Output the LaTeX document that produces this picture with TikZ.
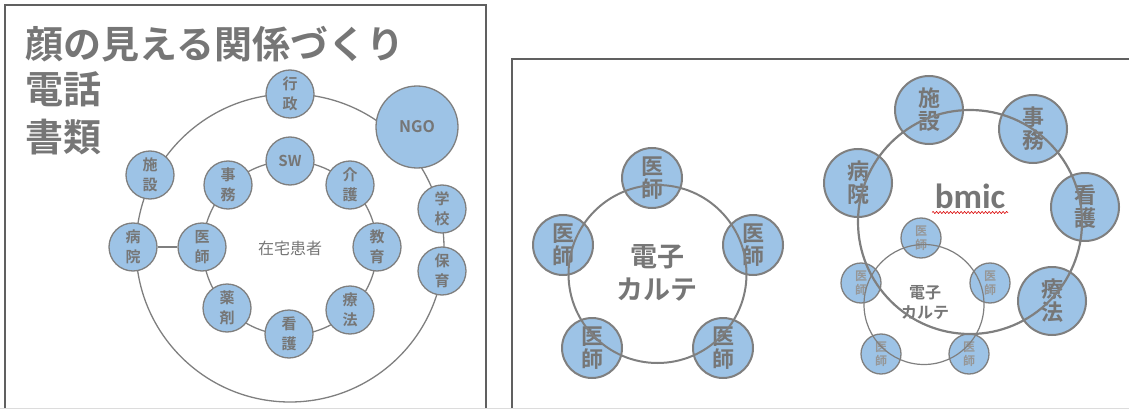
\documentclass[tikz,border=0pt]{standalone}
\usepackage{fontspec}
\newfontfamily\jp{Noto Sans CJK JP}[BoldFont={Noto Sans CJK JP Bold}]
\newfontfamily\carl{Carlito}
\usetikzlibrary{decorations.pathmorphing}
\definecolor{nodefill}{RGB}{157,195,230}
\definecolor{ln}{RGB}{127,127,127}
\definecolor{txt}{RGB}{118,118,118}
\definecolor{frm}{RGB}{96,96,96}
\definecolor{lighttxt}{RGB}{150,150,150}
\definecolor{edgeline}{RGB}{220,220,220}
\tikzset{
  lnode/.style={circle, draw=ln, fill=nodefill, line width=1.3pt, minimum size=48pt, inner sep=0pt,
    font={\jp\bfseries\fontsize{15}{20}\selectfont}, text=txt, align=center},
  pnode/.style={circle, draw=ln, fill=nodefill, line width=2pt, minimum size=60pt, inner sep=0pt,
    font={\jp\bfseries\fontsize{22}{23}\selectfont}, text=txt, align=center},
  bnode/.style={circle, draw=ln, fill=nodefill, line width=2pt, minimum size=68pt, inner sep=0pt,
    font={\jp\bfseries\fontsize{22}{23}\selectfont}, text=txt, align=center},
  snode/.style={circle, draw=ln, fill=nodefill, line width=1.3pt, minimum size=40pt, inner sep=0pt,
    font={\jp\bfseries\fontsize{12}{14}\selectfont}, text=lighttxt, align=center},
  titletext/.style={anchor=west, inner sep=0pt, text=txt, font={\jp\bfseries\fontsize{38}{40}\selectfont}},
  ring/.style={draw=ln, line width=1.3pt},
  framebox/.style={draw=frm, line width=1.5pt}
}
\begin{document}
\begin{tikzpicture}[x=1pt,y=-1pt]
\useasboundingbox (0,0) rectangle (1129,409);
% frames
\draw[framebox] (5,430) -- (5,5) -- (486,5) -- (486,430);
\draw[framebox] (512,430) -- (512,59) -- (1140,59);
\draw[draw=edgeline, line width=1pt] (0,408.5) -- (1129,408.5);

% ---------- left panel ----------
\node[titletext] (t1) at (25,44) {顔の見える関係づくり};
\node[titletext] (t2) at (25,89) {電話};
\node[titletext] (t3) at (25,137) {書類};

\coordinate (c1) at (290,248);
\draw[ring] (c1) circle[radius=154];
\draw[ring] (c1) circle[radius=87];

\node[lnode] (sw) at (290,161) {SW};
\node[lnode] (kaigo) at (350,185) {介\\護};
\node[lnode] (kyoiku) at (377,247) {教\\育};
\node[lnode] (ryoho) at (350,310) {療\\法};
\node[lnode] (kango) at (289,334) {看\\護};
\node[lnode] (yakuzai) at (227,308) {薬\\剤};
\node[lnode] (ishi) at (202,247) {医\\師};
\node[lnode] (jimu) at (228,185) {事\\務};

\node[lnode] (gyosei) at (290,94) {行\\政};
\node[lnode, minimum size=82pt, font={\jp\bfseries\fontsize{16}{18}\selectfont}] (ngo) at (417,127) {NGO};
\node[lnode] (gakko) at (442,209) {学\\校};
\node[lnode] (hoiku) at (442,271) {保\\育};
\node[lnode] (shisetsu) at (150,175) {施\\設};
\node[lnode] (byoin) at (133,247) {病\\院};
\draw[ring] (byoin) -- (ishi);

\node[text=txt, font={\jp\fontsize{16}{18}\selectfont}] (zaitaku) at (c1) {在宅患者};

% ---------- right panel: pentagon ----------
\coordinate (c2) at (657.5,274);
\node[pnode] (p1) at (652,178) {医\\師};
\node[pnode] (p2) at (563,245) {医\\師};
\node[pnode] (p3) at (753,245) {医\\師};
\node[pnode] (p4) at (592,348) {医\\師};
\node[pnode] (p5) at (723,348) {医\\師};
\draw[ring, line width=2pt] (c2) circle[radius=89];
\node[text=txt, align=center, font={\jp\bfseries\fontsize{27}{33}\selectfont}] (karte1) at (657,273) {電子\\カルテ};

% ---------- right panel: bmic ----------
\coordinate (c3) at (970,222);
\coordinate (c4) at (924,304.5);
\node[snode] (s1) at (921,238) {医\\師};
\node[snode] (s2) at (861,283) {医\\師};
\node[snode] (s3) at (990,283) {医\\師};
\node[snode] (s4) at (881,354) {医\\師};
\node[snode] (s5) at (969,354) {医\\師};
\draw[draw=ln, line width=1.2pt] (c4) circle[radius=60];
\node[text=txt, align=center, font={\jp\bfseries\fontsize{16}{20}\selectfont}] (karte2) at (925,303) {電子\\カルテ};

\node[bnode] (b1) at (929,110) {施\\設};
\node[bnode] (b2) at (1033,129) {事\\務};
\node[bnode] (b3) at (1085,207) {看\\護};
\node[bnode] (b4) at (1052,301) {療\\法};
\node[bnode] (b5) at (858,183) {病\\院};
\draw[ring, line width=2.2pt] (c3) circle[radius=112];

\node[anchor=base, inner sep=0pt, text=txt, font={\carl\bfseries\fontsize{35}{40}\selectfont}] (bmic) at (970,208) {bmic};
\coordinate (u1) at (932,212.5);
\coordinate (u2) at (1008,212.5);
\draw[red!85!black, line width=0.6pt, decorate, decoration={snake, amplitude=1pt, segment length=3.5pt}] (u1) -- (u2);
\end{tikzpicture}
\end{document}
